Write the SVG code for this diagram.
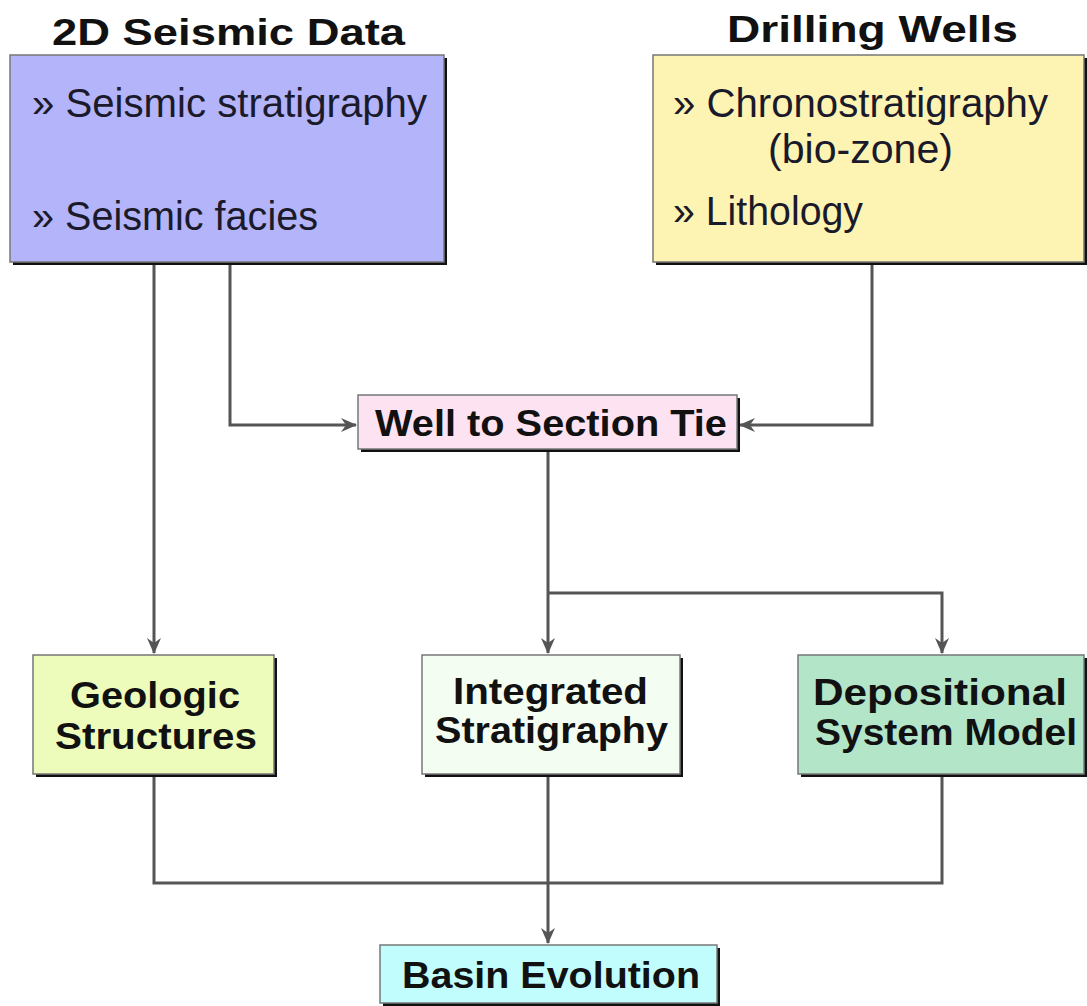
<svg xmlns="http://www.w3.org/2000/svg" width="1087" height="1006" viewBox="0 0 1087 1006">
  <style>
    .shadow { fill: #111; }
    .box { stroke: #777; stroke-width: 1.5; }
    .title { font-family: "Liberation Sans", Arial, sans-serif; font-weight: bold; font-size: 37px; fill: #111; }
    .item { font-family: "Liberation Sans", Arial, sans-serif; font-size: 40px; fill: #1a1a2a; }
    .wire { fill: none; stroke: #555; stroke-width: 3; }
  </style>
  <defs>
    <marker id="arrow" viewBox="0 0 16 14" markerWidth="16" markerHeight="14" refX="15" refY="7" orient="auto" markerUnits="userSpaceOnUse">
      <path d="M0,0 L16,7 L0,14 L5,7 Z" fill="#555"/>
    </marker>
  </defs>

  <rect width="1087" height="1006" fill="#fff"/>

  <!-- headings over the two source boxes -->
  <text class="title" x="52" y="45" textLength="353" lengthAdjust="spacingAndGlyphs">2D Seismic Data</text>
  <text class="title" x="727" y="42" textLength="291" lengthAdjust="spacingAndGlyphs">Drilling Wells</text>

  <!-- connectors -->
  <g id="connectors">
    <path class="wire" d="M154,265 V653" marker-end="url(#arrow)"/>
    <path class="wire" d="M230,265 V425 H356" marker-end="url(#arrow)"/>
    <path class="wire" d="M872,265 V425 H740" marker-end="url(#arrow)"/>
    <path class="wire" d="M548,452 V593"/>
    <path class="wire" d="M548,593 V653" marker-end="url(#arrow)"/>
    <path class="wire" d="M548,593 H942 V653" marker-end="url(#arrow)"/>
    <path class="wire" d="M154,777 V883 H942 V777"/>
    <path class="wire" d="M548,777 V943" marker-end="url(#arrow)"/>
  </g>

  <g id="seismic-data">
    <rect class="shadow" x="13" y="58" width="434" height="207"/>
    <rect class="box" x="10" y="55" width="434" height="207" fill="#b4b4fa"/>
    <text class="item" x="32" y="117" textLength="395" lengthAdjust="spacingAndGlyphs">» Seismic stratigraphy</text>
    <text class="item" x="32" y="230" textLength="286" lengthAdjust="spacingAndGlyphs">» Seismic facies</text>
  </g>

  <g id="drilling-wells">
    <rect class="shadow" x="656" y="58" width="431" height="207"/>
    <rect class="box" x="653" y="55" width="431" height="207" fill="#fdf4b3"/>
    <text class="item" x="673" y="117" textLength="375" lengthAdjust="spacingAndGlyphs">» Chronostratigraphy</text>
    <text class="item" x="768" y="163" textLength="185" lengthAdjust="spacingAndGlyphs">(bio-zone)</text>
    <text class="item" x="673" y="225" textLength="190" lengthAdjust="spacingAndGlyphs">» Lithology</text>
  </g>

  <g id="well-section-tie">
    <rect class="shadow" x="361" y="398" width="379" height="54"/>
    <rect class="box" x="358" y="395" width="379" height="54" fill="#fde2f1"/>
    <text class="title" x="375" y="436" textLength="352" lengthAdjust="spacingAndGlyphs">Well to Section Tie</text>
  </g>

  <g id="geologic-structures">
    <rect class="shadow" x="36" y="658" width="241" height="119"/>
    <rect class="box" x="33" y="655" width="241" height="119" fill="#edfbbb"/>
    <text class="title" x="70" y="708" textLength="170" lengthAdjust="spacingAndGlyphs">Geologic</text>
    <text class="title" x="55" y="749" textLength="202" lengthAdjust="spacingAndGlyphs">Structures</text>
  </g>

  <g id="integrated-stratigraphy">
    <rect class="shadow" x="425" y="658" width="258" height="119"/>
    <rect class="box" x="422" y="655" width="258" height="119" fill="#f4fdf2"/>
    <text class="title" x="453" y="704" textLength="195" lengthAdjust="spacingAndGlyphs">Integrated</text>
    <text class="title" x="435" y="743" textLength="233" lengthAdjust="spacingAndGlyphs">Stratigraphy</text>
  </g>

  <g id="depositional-model">
    <rect class="shadow" x="801" y="658" width="286" height="119"/>
    <rect class="box" x="798" y="655" width="286" height="119" fill="#b3e5c9"/>
    <text class="title" x="813" y="705" textLength="254" lengthAdjust="spacingAndGlyphs">Depositional</text>
    <text class="title" x="815" y="745" textLength="262" lengthAdjust="spacingAndGlyphs">System Model</text>
  </g>

  <g id="basin-evolution">
    <rect class="shadow" x="383" y="948" width="337" height="58"/>
    <rect class="box" x="380" y="945" width="337" height="58" fill="#c1fdfd"/>
    <text class="title" x="402" y="988" textLength="298" lengthAdjust="spacingAndGlyphs">Basin Evolution</text>
  </g>
</svg>
